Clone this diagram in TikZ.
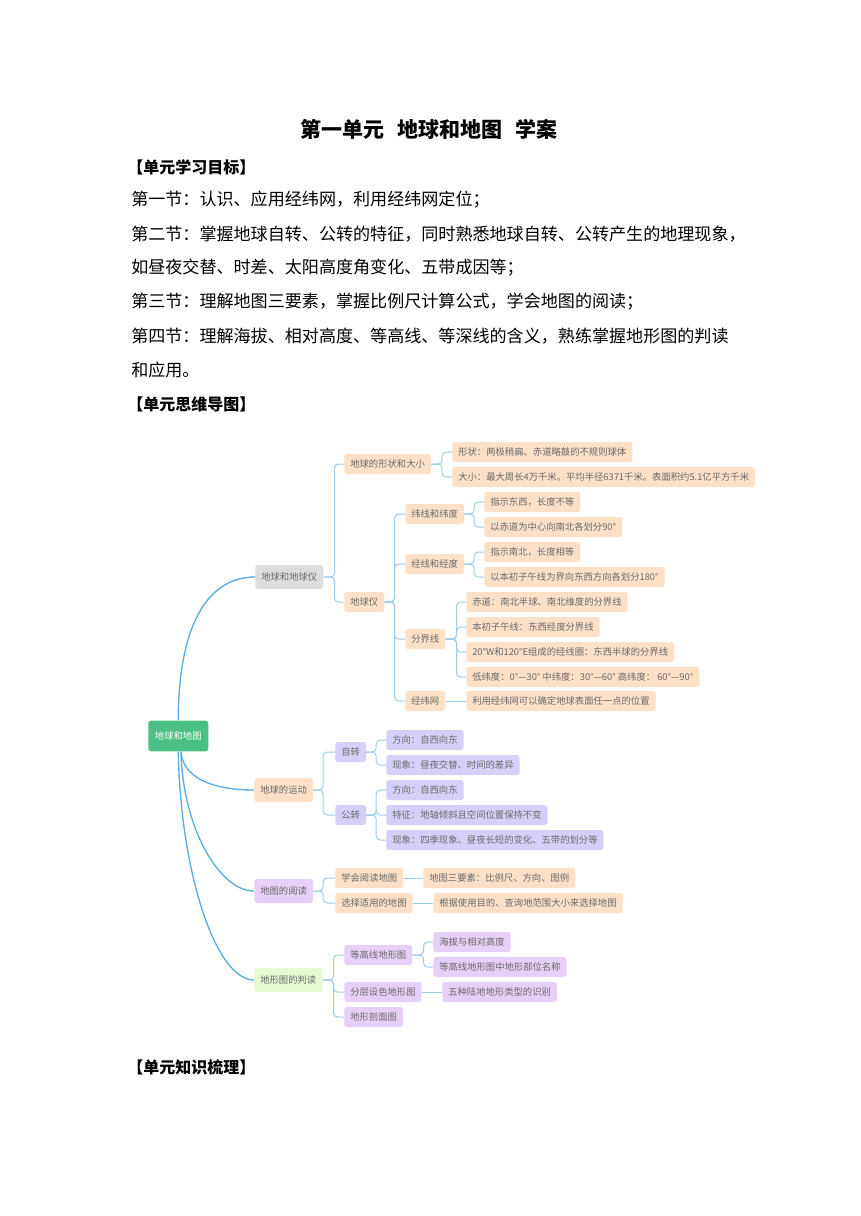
\documentclass[tikz,border=0pt]{standalone}
\usepackage{fontspec}
\setmainfont{Noto Sans CJK SC}
\usepackage{tikz}

\definecolor{peachfill}{HTML}{FDE0C6}
\definecolor{greyfill}{HTML}{DDDDDD}
\definecolor{rootgreen}{HTML}{4CBF86}
\definecolor{lilacfill}{HTML}{E6D0F9}
\definecolor{bluefill}{HTML}{D4D0FA}
\definecolor{limefill}{HTML}{E7F9D0}
\definecolor{mmtext}{HTML}{6A6A6A}
\definecolor{trunkblue}{HTML}{5AADE0}
\definecolor{twigblue}{HTML}{9DCDE8}

\begin{document}
\begin{tikzpicture}[x=0.75pt, y=-0.75pt,
  bodytext/.style={anchor=west, inner sep=0pt, font=\fontsize{12.8}{14}\selectfont},
  heading/.style={bodytext, font=\fontsize{12}{14}\selectfont\bfseries},
  mm/.style={rectangle, rounded corners=2pt, anchor=west, inner xsep=4.5pt, inner ysep=0pt, minimum height=15pt, text=mmtext, font=\fontsize{7}{8}\selectfont},
  topic/.style={mm, minimum height=18pt},
  trunk/.style={draw=trunkblue, line width=1pt},
  twig/.style={draw=twigblue, line width=0.75pt, rounded corners=3pt}]
\fill[white] (0,0) rectangle (860,1216);

\node[font=\fontsize{15.75}{18}\selectfont\bfseries] (title) at (429,129) {第一单元\hspace{0.6em}地球和地图\hspace{0.6em}学案};
\node[heading] (goals) at (127,167) {【单元学习目标】};
\node[bodytext] (sec1) at (131,200) {第一节：认识、应用经纬网，利用经纬网定位；};
\node[bodytext] (sec2) at (131,234) {第二节：掌握地球自转、公转的特征，同时熟悉地球自转、公转产生的地理现象，};
\node[bodytext] (sec2b) at (131,268) {如昼夜交替、时差、太阳高度角变化、五带成因等；};
\node[bodytext] (sec3) at (131,302) {第三节：理解地图三要素，掌握比例尺计算公式，学会地图的阅读；};
\node[bodytext] (sec4) at (131,336) {第四节：理解海拔、相对高度、等高线、等深线的含义，熟练掌握地形图的判读};
\node[bodytext] (sec4b) at (131,370) {和应用。};
\node[heading] (maphead) at (127,404) {【单元思维导图】};
\node[heading] (sumhead) at (127,1067) {【单元知识梳理】};

\node[mm, fill=rootgreen, text=white, minimum height=23pt, inner xsep=5pt] (root) at (148,736) {地球和地图};
\node[topic, fill=greyfill] (globe) at (255,577) {地球和地球仪};
\node[topic, fill=peachfill] (motion) at (254,790) {地球的运动};
\node[topic, fill=lilacfill] (reading) at (254,891) {地图的阅读};
\node[topic, fill=limefill] (terrain) at (254,980) {地形图的判读};

\node[mm, fill=peachfill] (shape) at (344,464) {地球的形状和大小};
\node[mm, fill=peachfill] (model) at (344,602) {地球仪};
\node[mm, fill=peachfill] (shapeA) at (452,452) {形状：两极稍扁、赤道略鼓的不规则球体};
\node[mm, fill=peachfill] (shapeB) at (452,477) {大小：最大周长4万千米。平均半径6371千米。表面积约5.1亿平方千米};
\node[mm, fill=peachfill] (lat) at (405,514) {纬线和纬度};
\node[mm, fill=peachfill] (lon) at (405,564) {经线和经度};
\node[mm, fill=peachfill] (bound) at (405,639) {分界线};
\node[mm, fill=peachfill] (grid) at (405,701) {经纬网};
\node[mm, fill=peachfill] (latA) at (484,502) {指示东西，长度不等};
\node[mm, fill=peachfill] (latB) at (484,527) {以赤道为中心向南北各划分90°};
\node[mm, fill=peachfill] (lonA) at (484,552) {指示南北，长度相等};
\node[mm, fill=peachfill] (lonB) at (484,577) {以本初子午线为界向东西方向各划分180°};
\node[mm, fill=peachfill] (boundA) at (466,602) {赤道：南北半球、南北维度的分界线};
\node[mm, fill=peachfill] (boundB) at (466,627) {本初子午线：东西经度分界线};
\node[mm, fill=peachfill] (boundC) at (466,652) {20°W和120°E组成的经线圈：东西半球的分界线};
\node[mm, fill=peachfill] (boundD) at (466,677) {低纬度：0°—30° 中纬度：30°—60° 高纬度： 60°—90°};
\node[mm, fill=peachfill] (gridA) at (466,701) {利用经纬网可以确定地球表面任一点的位置};

\node[mm, fill=bluefill] (spin) at (335,752) {自转};
\node[mm, fill=bluefill] (orbit) at (335,815) {公转};
\node[mm, fill=bluefill] (spinA) at (386,740) {方向：自西向东};
\node[mm, fill=bluefill] (spinB) at (386,765) {现象：昼夜交替、时间的差异};
\node[mm, fill=bluefill] (orbitA) at (386,790) {方向：自西向东};
\node[mm, fill=bluefill] (orbitB) at (386,815) {特征：地轴倾斜且空间位置保持不变};
\node[mm, fill=bluefill] (orbitC) at (386,840) {现象：四季现象、昼夜长短的变化、五带的划分等};

\node[mm, fill=peachfill] (learn) at (335,878) {学会阅读地图};
\node[mm, fill=peachfill] (choose) at (335,903) {选择适用的地图};
\node[mm, fill=peachfill] (learnA) at (423,878) {地图三要素：比例尺、方向、图例};
\node[mm, fill=peachfill] (chooseA) at (433,903) {根据使用目的、查询地范围大小来选择地图};

\node[mm, fill=lilacfill] (contour) at (344,955) {等高线地形图};
\node[mm, fill=lilacfill] (layered) at (344,992) {分层设色地形图};
\node[mm, fill=lilacfill] (profile) at (344,1017) {地形剖面图};
\node[mm, fill=lilacfill] (contourA) at (433,942) {海拔与相对高度};
\node[mm, fill=lilacfill] (contourB) at (433,967) {等高线地形图中地形部位名称};
\node[mm, fill=lilacfill] (layeredA) at (442,992) {五种陆地地形类型的识别};

\draw[trunk] (root.north) .. controls +(0,-90) and +(-50,0) .. (globe.west);
\draw[trunk] ([xshift=2pt]root.south) .. controls +(2,26) and +(-42,0) .. (motion.west);
\draw[trunk] ([xshift=2pt]root.south) .. controls +(2,78) and +(-34,0) .. (reading.west);
\draw[trunk] (root.south) .. controls +(2,118) and +(-39,0) .. (terrain.west);

\draw[twig] (globe.east) -- ++(11,0) |- (shape.west);
\draw[twig] (globe.east) -- ++(11,0) |- (model.west);
\draw[twig] (shape.east) -- ++(11,0) |- (shapeA.west);
\draw[twig] (shape.east) -- ++(11,0) |- (shapeB.west);
\draw[twig] (model.east) -- ++(10,0) |- (lat.west);
\draw[twig] (model.east) -- ++(10,0) |- (lon.west);
\draw[twig] (model.east) -- ++(10,0) |- (bound.west);
\draw[twig] (model.east) -- ++(10,0) |- (grid.west);
\draw[twig] (lat.east) -- ++(10,0) |- (latA.west);
\draw[twig] (lat.east) -- ++(10,0) |- (latB.west);
\draw[twig] (lon.east) -- ++(10,0) |- (lonA.west);
\draw[twig] (lon.east) -- ++(10,0) |- (lonB.west);
\draw[twig] (bound.east) -- ++(11,0) |- (boundA.west);
\draw[twig] (bound.east) -- ++(11,0) |- (boundB.west);
\draw[twig] (bound.east) -- ++(11,0) |- (boundC.west);
\draw[twig] (bound.east) -- ++(11,0) |- (boundD.west);
\draw[twig] (grid.east) -- (gridA.west);

\draw[twig] (motion.east) -- ++(10,0) |- (spin.west);
\draw[twig] (motion.east) -- ++(10,0) |- (orbit.west);
\draw[twig] (spin.east) -- ++(10,0) |- (spinA.west);
\draw[twig] (spin.east) -- ++(10,0) |- (spinB.west);
\draw[twig] (orbit.east) -- ++(10,0) |- (orbitA.west);
\draw[twig] (orbit.east) -- ++(10,0) |- (orbitB.west);
\draw[twig] (orbit.east) -- ++(10,0) |- (orbitC.west);

\draw[twig] (reading.east) -- ++(10,0) |- (learn.west);
\draw[twig] (reading.east) -- ++(10,0) |- (choose.west);
\draw[twig] (learn.east) -- (learnA.west);
\draw[twig] (choose.east) -- (chooseA.west);

\draw[twig] (terrain.east) -- ++(11,0) |- (contour.west);
\draw[twig] (terrain.east) -- ++(11,0) |- (layered.west);
\draw[twig] (terrain.east) -- ++(11,0) |- (profile.west);
\draw[twig] (contour.east) -- ++(11,0) |- (contourA.west);
\draw[twig] (contour.east) -- ++(11,0) |- (contourB.west);
\draw[twig] (layered.east) -- (layeredA.west);
\end{tikzpicture}
\end{document}
